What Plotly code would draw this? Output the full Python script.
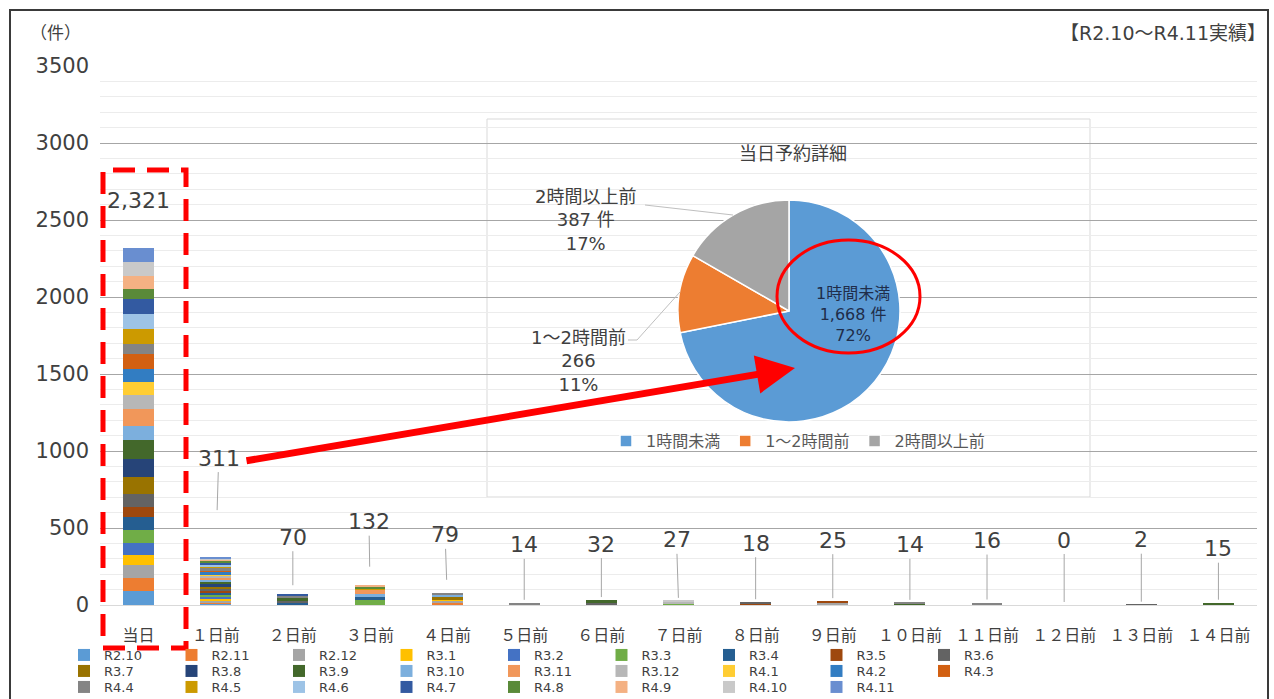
import plotly.graph_objects as go

# ---------------- data ----------------
categories = ["当日", "１日前", "２日前", "３日前", "４日前", "５日前", "６日前", "７日前",
              "８日前", "９日前", "１０日前", "１１日前", "１２日前", "１３日前", "１４日前"]

series_names = ["R2.10", "R2.11", "R2.12", "R3.1", "R3.2", "R3.3", "R3.4", "R3.5", "R3.6",
                "R3.7", "R3.8", "R3.9", "R3.10", "R3.11", "R3.12", "R4.1", "R4.2", "R4.3",
                "R4.4", "R4.5", "R4.6", "R4.7", "R4.8", "R4.9", "R4.10", "R4.11"]

series_colors = ["#5B9BD5", "#ED7D31", "#A5A5A5", "#FFC000", "#4472C4", "#70AD47", "#255E91",
                 "#9E480E", "#636363", "#997300", "#264478", "#43682B", "#7CAFDD", "#F1975A",
                 "#B7B7B7", "#FFCD33", "#327DC2", "#D26012", "#848484", "#CC9A00", "#9DC3E6",
                 "#335AA1", "#5A8A39", "#F4B183", "#C9C9C9", "#698ED0"]

#          当日 1   2   3   4   5   6   7   8   9  10  11 12 13 14
r2_10 = [88, 10, 0, 0, 0, 0, 0, 0, 0, 0, 0, 0, 0, 0, 0]
r2_11 = [86, 8, 0, 0, 12, 0, 0, 0, 0, 0, 0, 0, 0, 0, 0]
r2_12 = [86, 10, 6, 0, 15, 0, 0, 0, 0, 15, 0, 0, 0, 0, 0]
r3_1 = [65, 14, 0, 0, 10, 0, 0, 0, 0, 0, 0, 0, 0, 0, 0]
r3_2 = [80, 10, 0, 0, 0, 0, 0, 0, 0, 0, 0, 0, 0, 0, 0]
r3_3 = [82, 18, 0, 35, 0, 0, 0, 8, 0, 0, 0, 0, 0, 0, 0]
r3_4 = [86, 12, 12, 18, 0, 0, 0, 0, 0, 0, 0, 0, 0, 0, 0]
r3_5 = [65, 10, 0, 0, 0, 6, 0, 0, 8, 10, 0, 0, 0, 0, 0]
r3_6 = [86, 14, 10, 0, 0, 0, 12, 0, 10, 0, 0, 0, 0, 2, 6]
r3_7 = [108, 16, 0, 0, 12, 0, 0, 0, 0, 0, 0, 0, 0, 0, 0]
r3_8 = [119, 12, 0, 0, 0, 0, 0, 0, 0, 0, 0, 0, 0, 0, 0]
r3_9 = [123, 16, 20, 0, 0, 0, 20, 0, 0, 0, 8, 0, 0, 0, 9]
r3_10 = [89, 10, 0, 20, 15, 0, 0, 0, 0, 0, 0, 0, 0, 0, 0]
r3_11 = [112, 14, 0, 25, 0, 0, 0, 0, 0, 0, 0, 0, 0, 0, 0]
r3_12 = [86, 16, 0, 0, 0, 0, 0, 12, 0, 0, 0, 6, 0, 0, 0]
r4_1 = [86, 10, 0, 0, 0, 0, 0, 0, 0, 0, 0, 0, 0, 0, 0]
r4_2 = [86, 12, 0, 0, 0, 0, 0, 0, 0, 0, 0, 0, 0, 0, 0]
r4_3 = [97, 14, 0, 0, 0, 0, 0, 0, 0, 0, 0, 0, 0, 0, 0]
r4_4 = [65, 12, 14, 0, 15, 8, 0, 0, 0, 0, 6, 10, 0, 0, 0]
r4_5 = [97, 14, 0, 12, 0, 0, 0, 0, 0, 0, 0, 0, 0, 0, 0]
r4_6 = [97, 10, 0, 0, 0, 0, 0, 0, 0, 0, 0, 0, 0, 0, 0]
r4_7 = [97, 16, 8, 0, 0, 0, 0, 0, 0, 0, 0, 0, 0, 0, 0]
r4_8 = [65, 8, 0, 10, 0, 0, 0, 0, 0, 0, 0, 0, 0, 0, 0]
r4_9 = [86, 10, 0, 12, 0, 0, 0, 0, 0, 0, 0, 0, 0, 0, 0]
r4_10 = [91, 6, 0, 0, 0, 0, 0, 7, 0, 0, 0, 0, 0, 0, 0]
r4_11 = [93, 9, 0, 0, 0, 0, 0, 0, 0, 0, 0, 0, 0, 0, 0]

series_values = [r2_10, r2_11, r2_12, r3_1, r3_2, r3_3, r3_4, r3_5, r3_6,
                 r3_7, r3_8, r3_9, r3_10, r3_11, r3_12, r4_1, r4_2, r4_3,
                 r4_4, r4_5, r4_6, r4_7, r4_8, r4_9, r4_10, r4_11]

pie_labels = ["1時間未満", "1～2時間前", "2時間以上前"]
pie_values = [1668, 266, 387]
pie_colors = ["#5B9BD5", "#ED7D31", "#A5A5A5"]
pie_unit = [" 件", "", " 件"]

# ---------------- layout helpers ----------------
W, H = 1274, 699
L, R, T, B = 100, 17, 66, 94
PW = W - L - R
PH = H - T - B
FONT = "DejaVu Sans, Noto Sans CJK JP, sans-serif"
TXT = "#404040"


def px(x):
    return (x - L) / PW


def py(y):
    return (H - B - y) / PH


totals = [sum(col) for col in zip(*series_values)]

# label offsets (pixels) for the bar total labels
label_ax = [0, 3, 0, -1, -2, 0, 0, -2, 0, 0, 0, 0, 0, 0, 0]
label_ay = [-47, -99, -57, -63, -58, -58, -56, -61, -59, -61, -58, -62, -65, -65, -54]
label_standoff = [0, 47, 9, 18, 13, 3, 3, 3, 3, 3, 3, 3, 3, 3, 3]

fig = go.Figure()

legend_ids = ["legend", "legend2", "legend3"]
for i, (name, color, vals) in enumerate(zip(series_names, series_colors, series_values)):
    fig.add_trace(go.Bar(
        x=categories, y=vals, name=name,
        marker=dict(color=color, line=dict(width=0)),
        legend=legend_ids[i // 9],
    ))

fig.add_trace(go.Pie(
    labels=pie_labels, values=pie_values, sort=False, direction="clockwise", rotation=0,
    marker=dict(colors=pie_colors, line=dict(color="white", width=1.5)),
    textinfo="none", legend="legend4",
    domain=dict(x=[px(678), px(900)], y=[py(422), py(200)]),
))

annotations = []
for i, (cat, tot) in enumerate(zip(categories, totals)):
    txt = f"{tot:,}"
    if i == 0:
        annotations.append(dict(x=cat, y=tot, xref="x", yref="y", text=txt, showarrow=False,
                                xanchor="center", yanchor="middle", yshift=-label_ay[i],
                                font=dict(size=22, color=TXT)))
    else:
        annotations.append(dict(x=cat, y=tot, xref="x", yref="y", text=txt, showarrow=True,
                                arrowhead=0, arrowwidth=1, arrowcolor="#a6a6a6",
                                ax=label_ax[i], ay=label_ay[i], standoff=label_standoff[i],
                                font=dict(size=22, color=TXT)))


def note(x, y, text, size, color=TXT, xanchor="center"):
    return dict(x=px(x), y=py(y), xref="paper", yref="paper", text=text, showarrow=False,
                xanchor=xanchor, yanchor="middle", font=dict(size=size, color=color))


# pie labels
ptotal = sum(pie_values)
pie_text = [f"{lab}<br>{v:,}{u}<br>{round(v / ptotal * 100)}%"
            for lab, v, u in zip(pie_labels, pie_values, pie_unit)]
annotations += [
    note(853, 314, pie_text[0], 16, "#1F2D4A"),
    note(578, 361, pie_text[1], 18),
    note(585, 220, pie_text[2], 18),
    note(793, 153, "当日予約詳細", 18),
    note(55, 33, "（件）", 17),
    note(1268, 33, "【R2.10～R4.11実績】", 19, xanchor="right"),
    # red arrow
    dict(x=px(795), y=py(368), xref="paper", yref="paper", text="", showarrow=True,
         arrowhead=2, arrowsize=1.1, arrowwidth=7, arrowcolor="#FF0000",
         ax=245 - 795, ay=461 - 368),
]

shapes = [
    # pie inset box
    dict(type="rect", xref="paper", yref="paper", x0=px(487), x1=px(1090), y0=py(497), y1=py(119),
         fillcolor="white", line=dict(color="#d9d9d9", width=1), layer="between"),
    # pie leader lines
    dict(type="line", xref="paper", yref="paper", x0=px(645), y0=py(205), x1=px(733), y1=py(215),
         line=dict(color="#bfbfbf", width=1)),
    dict(type="path", xref="paper", yref="paper",
         path=f"M {px(628)} {py(340)} L {px(637)} {py(340)} L {px(680)} {py(292)}",
         line=dict(color="#bfbfbf", width=1)),
    # red ellipse
    dict(type="circle", xref="paper", yref="paper", x0=px(777), x1=px(920), y0=py(353), y1=py(240),
         line=dict(color="#FF0000", width=3)),
    # red dashed rectangle
    dict(type="rect", xref="paper", yref="paper", x0=px(103), x1=px(186), y0=py(648), y1=py(170),
         line=dict(color="#FF0000", width=5, dash="22px,12px")),
    # outer frame
    dict(type="rect", xref="paper", yref="paper", x0=px(10), x1=px(1268), y0=py(760), y1=py(10),
         line=dict(color="#3a3a3a", width=2)),
]

leg_common = dict(orientation="h", bgcolor="rgba(0,0,0,0)", font=dict(size=13, color=TXT),
                  entrywidth=62.5, entrywidthmode="pixels", xanchor="left", yanchor="middle",
                  x=px(64), traceorder="normal", itemclick=False, itemdoubleclick=False)

fig.update_layout(
    width=W, height=H,
    margin=dict(l=L, r=R, t=T, b=B, autoexpand=False),
    paper_bgcolor="white", plot_bgcolor="white",
    barmode="stack", bargap=0.6,
    font=dict(family=FONT, color=TXT),
    showlegend=True,
    xaxis=dict(tickfont=dict(size=16, color=TXT), showgrid=False, showline=True,
               linecolor="#d9d9d9", ticks="", ticklabelstandoff=16),
    yaxis=dict(range=[0, 3500], dtick=500, tickfont=dict(size=21, color=TXT),
               showgrid=True, gridcolor="#a6a6a6", gridwidth=1, zeroline=False,
               minor=dict(dtick=100, showgrid=True, gridcolor="#ececec", gridwidth=1),
               ticklabelstandoff=10),
    legend=dict(**leg_common, y=py(655)),
    legend2=dict(**leg_common, y=py(671)),
    legend3=dict(**leg_common, y=py(687)),
    legend4=dict(orientation="h", xanchor="center", yanchor="middle", x=px(798), y=py(441),
                 bgcolor="rgba(0,0,0,0)", font=dict(size=16, color="#595959")),
    annotations=annotations,
    shapes=shapes,
)

fig.write_html("out.html", config={"displayModeBar": False},
               post_script="document.body.style.margin='0px';")
